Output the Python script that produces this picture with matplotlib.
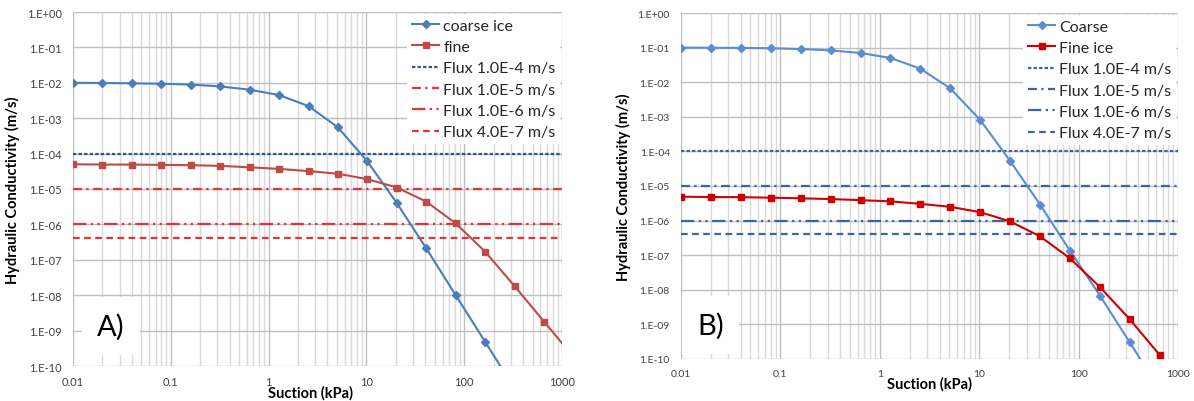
"""Hydraulic conductivity vs suction, coarse and fine ice (panels A and B)"""
import matplotlib
matplotlib.use("Agg")
import matplotlib.pyplot as plt
from matplotlib.ticker import FixedLocator, NullFormatter

# Suction (kPa) at which the curves were evaluated
suction = [0.01, 0.02, 0.04, 0.08, 0.16, 0.32, 0.64, 1.28, 2.56, 5.12,
           10.24, 20.48, 40.96, 81.92, 163.84, 327.68, 655.36, 1310.72]

# Panel A
coarse_a = [1.0e-2, 9.9e-3, 9.7e-3, 9.4e-3, 8.9e-3, 7.9e-3, 6.4e-3, 4.5e-3, 2.2e-3,
            5.5e-4, 6.0e-5, 4.0e-6, 2.1e-7, 1.0e-8, 4.8e-10, 2.3e-11]
fine_a = [5.0e-5, 4.9e-5, 4.9e-5, 4.8e-5, 4.7e-5, 4.5e-5, 4.1e-5, 3.7e-5, 3.2e-5,
          2.7e-5, 1.9e-5, 1.1e-5, 4.4e-6, 1.07e-6, 1.7e-7, 1.8e-8, 1.8e-9, 1.8e-10]

# Panel B
coarse_b = [1.0e-1, 9.9e-2, 9.8e-2, 9.6e-2, 9.1e-2, 8.3e-2, 7.0e-2, 5.0e-2, 2.46e-2,
            6.6e-3, 8.1e-4, 5.3e-5, 2.9e-6, 1.35e-7, 6.8e-9, 3.0e-10, 1.3e-11]
fine_b = [4.9e-6, 4.8e-6, 4.75e-6, 4.6e-6, 4.4e-6, 4.2e-6, 3.9e-6, 3.6e-6, 3.05e-6,
          2.5e-6, 1.75e-6, 9.5e-7, 3.5e-7, 8.1e-8, 1.2e-8, 1.4e-9, 1.3e-10]

flux_values = [1.0e-4, 1.0e-5, 1.0e-6, 4.0e-7]
flux_labels = ["Flux 1.0E-4 m/s", "Flux 1.0E-5 m/s", "Flux 1.0E-6 m/s", "Flux 4.0E-7 m/s"]
flux_dashes = [(1.5, 1), (4, 2, 1, 2), (6, 2, 1, 2, 1, 2), (3, 2)]

x_ticks = [0.01, 0.1, 1, 10, 100, 1000]
x_tick_labels = ["0.01", "0.1", "1", "10", "100", "1000"]
y_ticks = [1.0, 1e-1, 1e-2, 1e-3, 1e-4, 1e-5, 1e-6, 1e-7, 1e-8, 1e-9, 1e-10]
y_tick_labels = ["1.E+00", "1.E-01", "1.E-02", "1.E-03", "1.E-04", "1.E-05",
                 "1.E-06", "1.E-07", "1.E-08", "1.E-09", "1.E-10"]

plt.rcParams['font.family'] = ['Lato', 'DejaVu Sans']

MAJOR_GRID = '#BFBFBF'
MINOR_GRID = '#DADADA'


def style_axes(ax, tick_size):
    """Excel-like log-log axes with grey grid and no tick marks"""
    ax.set_xscale('log')
    ax.set_yscale('log')
    ax.set_xlim(0.01, 1000)
    ax.set_ylim(1e-10, 1)
    ax.set_xticks(x_ticks, x_tick_labels)
    ax.xaxis.set_minor_locator(FixedLocator([m * 10.0 ** e for e in range(-2, 3) for m in range(2, 10)]))
    ax.xaxis.set_minor_formatter(NullFormatter())
    ax.set_yticks(y_ticks, y_tick_labels)
    ax.yaxis.set_minor_locator(FixedLocator([]))
    ax.tick_params(which='both', length=0, labelsize=tick_size, colors='#404040')
    ax.tick_params(axis='x', pad=7)
    ax.tick_params(axis='y', pad=8)
    ax.grid(True, which='major', color=MAJOR_GRID, linewidth=1.0)
    ax.xaxis.grid(True, which='minor', color=MINOR_GRID, linewidth=1.0)
    [ax.spines[s].set_visible(False) for s in ax.spines]
    ax.set_axisbelow(True)


def draw_panel(ax, coarse, fine, names, coarse_color, fine_color, flux_colors, tag, tag_pos, xlabel_x):
    n_c = len(coarse)
    n_f = len(fine)
    ax.plot(suction[:n_c], coarse, color=coarse_color, marker='D', markersize=3.6,
            linewidth=1.5, label=names[0], zorder=4)
    ax.plot(suction[:n_f], fine, color=fine_color, marker='s', markersize=5,
            linewidth=1.5, label=names[1], zorder=4)
    for val, lab, dash, col in zip(flux_values, flux_labels, flux_dashes, flux_colors):
        ax.axhline(val, color=col, linewidth=1.6, dashes=dash, label=lab, zorder=3)
    ax.set_xlabel("Suction (kPa)", fontsize=10.5, fontweight='bold', labelpad=-1)
    ax.xaxis.label.set_x(xlabel_x)
    ax.set_ylabel("Hydraulic Conductivity (m/s)", fontsize=10.5, fontweight='bold', labelpad=5)
    ax.text(tag_pos[0], tag_pos[1], tag, transform=ax.transAxes, fontsize=21, color='black',
            ha='center', va='center', zorder=2,
            bbox=dict(facecolor='white', edgecolor='none', pad=11))
    leg = ax.legend(loc='upper right', fontsize=11.5, frameon=True, framealpha=1,
                    facecolor='white', edgecolor='none', handlelength=1.7,
                    handletextpad=0.25, labelspacing=0.45, borderaxespad=0.1,
                    borderpad=0.3, numpoints=1, fancybox=False)
    leg.set_zorder(5)
    for t in leg.get_texts():
        t.set_color('#262626')


fig = plt.figure(figsize=(11.94, 4.02), dpi=100)
ax_a = fig.add_axes([73 / 1194, 1 - 367 / 402, 489 / 1194, 354 / 402])
ax_b = fig.add_axes([681 / 1194, 1 - 360 / 402, 497 / 1194, 346 / 402])

style_axes(ax_a, 8)
style_axes(ax_b, 7.5)

draw_panel(ax_a, coarse_a, fine_a, ["coarse ice", "fine"], '#4A7EBB', '#BE4B48',
           ['#2E5597', '#E8322F', '#E8322F', '#E8322F'], "A)", (0.078, 0.113), 0.485)
draw_panel(ax_b, coarse_b, fine_b, ["Coarse", "Fine ice"], '#5B8DD3', '#D00000',
           ['#3A64A3'] * 4, "B)", (0.06, 0.098), 0.5)

fig.savefig("out.png", dpi=100)
